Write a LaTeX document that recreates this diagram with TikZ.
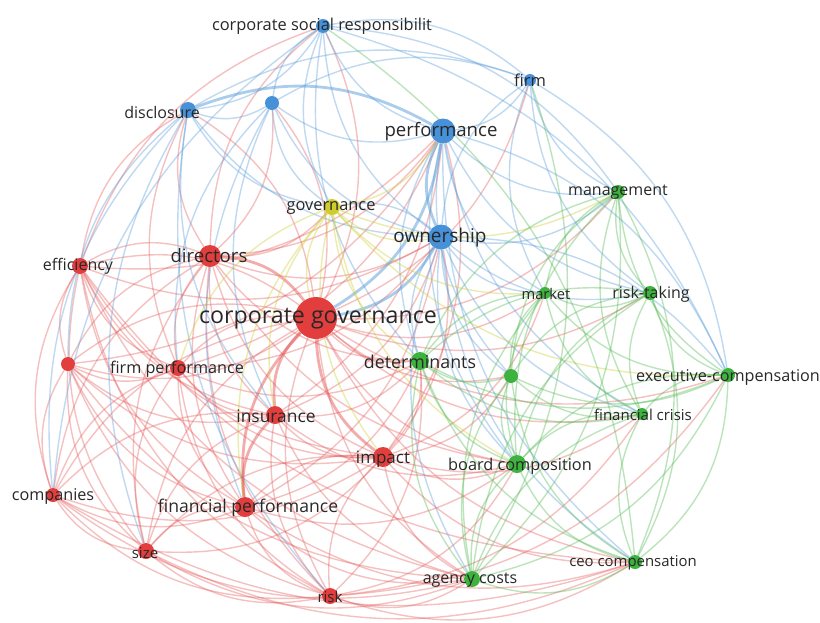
\documentclass[tikz,border=0pt]{standalone}
\usepackage{fontspec}
\setmainfont{Open Sans}
\pgfdeclarelayer{bg}
\pgfsetlayers{bg,main}
\definecolor{cred}{RGB}{226,62,62}
\definecolor{cgreen}{RGB}{62,178,62}
\definecolor{cblue}{RGB}{70,145,215}
\definecolor{cyel}{RGB}{205,205,45}
\definecolor{ltxt}{RGB}{40,40,40}
\tikzset{
  vn/.style={circle,inner sep=0pt,draw=none,minimum size=#1},
  rn/.style={vn=#1,fill=cred},
  gn/.style={vn=#1,fill=cgreen},
  bn/.style={vn=#1,fill=cblue},
  yn/.style={vn=#1,fill=cyel},
  lab/.style={text=ltxt,inner sep=0pt,yshift=-2pt,font=\fontsize{#1}{#1}\selectfont},
  lnk/.style={line width=1.4pt,draw opacity=0.38,bend right=25},
  rl/.style={lnk,draw=cred!85!white},
  gl/.style={lnk,draw=cgreen!90!white},
  bl/.style={lnk,draw=cblue!90!white},
  yl/.style={lnk,draw=cyel},
  hv/.style={line width=2.8pt,draw opacity=0.5}
}
\begin{document}
\begin{tikzpicture}[x=1pt,y=-1pt]
\useasboundingbox (0,0) rectangle (820,622);
% blue
\node[bn=14] (csr) at (323,26) {};
\node[bn=12] (firm) at (530,80) {};
\node[bn=16] (dis) at (188,110) {};
\node[bn=14] (bu) at (272,103) {};
\node[bn=25] (perf) at (443,131) {};
\node[bn=25] (own) at (441,237) {};
% yellow
\node[yn=16] (gov) at (332,207) {};
% green
\node[gn=14] (mgmt) at (618,192) {};
\node[gn=12] (mkt) at (545,293) {};
\node[gn=14] (rt) at (650,293) {};
\node[gn=18] (det) at (420,361) {};
\node[gn=14] (gu) at (511,376) {};
\node[gn=14] (exec) at (728,375) {};
\node[gn=12] (fc) at (642,414) {};
\node[gn=18] (bc) at (517,464) {};
\node[gn=16] (ac) at (472,579) {};
\node[gn=14] (ceo) at (635,562) {};
% red
\node[rn=42] (cg) at (316,318) {};
\node[rn=22] (dir) at (210,256) {};
\node[rn=16] (eff) at (80,266) {};
\node[rn=14] (ru) at (68,364) {};
\node[rn=16] (fp) at (178,368) {};
\node[rn=18] (ins) at (275,415) {};
\node[rn=20] (imp) at (383,457) {};
\node[rn=14] (comp) at (53,495) {};
\node[rn=20] (finp) at (245,507) {};
\node[rn=16] (size) at (146,551) {};
\node[rn=16] (risk) at (330,596) {};

\begin{pgfonlayer}{bg}
\fill[white] (0,0) rectangle (820,622);
% red links
\foreach \s/\t in {cg/eff,cg/ru,cg/fp,cg/comp,cg/size,cg/risk,cg/dis,cg/csr,cg/bu,cg/firm,cg/det,cg/bc,cg/ac,cg/mkt,cg/rt,cg/exec,cg/fc,cg/ceo,cg/mgmt,cg/gu,
 dir/eff,dir/ru,dir/fp,dir/ins,dir/imp,dir/comp,dir/finp,dir/size,dir/risk,dir/perf,dir/own,dis/dir,dir/bu,dir/gov,dir/det,dir/bc,csr/dir,
 eff/ru,eff/fp,eff/comp,eff/size,eff/finp,eff/risk,eff/ins,eff/imp,dis/eff,eff/perf,csr/eff,eff/ac,eff/own,eff/ceo,
 ru/fp,ru/comp,ru/size,ru/finp,ru/ins,ru/risk,ru/imp,ru/cg,ru/ac,ru/perf,
 fp/comp,fp/size,fp/finp,fp/ins,fp/risk,fp/imp,fp/own,fp/perf,dis/fp,fp/det,
 ins/imp,ins/size,ins/risk,ins/comp,ins/det,ins/bc,ins/ac,ins/own,ins/perf,
 imp/finp,imp/risk,imp/size,imp/bc,imp/det,imp/ac,imp/ceo,imp/fc,imp/gu,imp/own,imp/perf,imp/mkt,
 comp/size,comp/finp,comp/risk,comp/ac,comp/ceo,comp/imp,
 finp/size,finp/risk,finp/bc,finp/ac,finp/det,finp/ceo,finp/own,
 size/risk,size/ac,size/ceo,size/imp,
 risk/ac,risk/ceo,risk/bc,risk/det,risk/exec,risk/fc}
 \draw[rl] (\s) to (\t);
\foreach \s/\t in {cg/dir,cg/ins,cg/imp,cg/finp,ins/finp}
 \draw[rl,hv] (\s) to (\t);
% blue links
\foreach \s/\t in {dis/csr,dis/bu,firm/dis,dis/own,dis/gov,dis/comp,dis/ins,dis/size,dis/ru,dis/risk,
 csr/bu,csr/perf,firm/csr,csr/own,mgmt/csr,exec/csr,csr/det,csr/gov,csr/comp,
 bu/perf,firm/bu,bu/own,bu/gov,bu/fp,bu/finp,bu/ins,
 perf/firm,perf/mgmt,perf/mkt,perf/rt,perf/det,perf/bc,exec/perf,perf/fc,perf/gu,perf/ceo,
 firm/own,firm/mgmt,firm/rt,exec/firm,firm/mkt,
 own/det,own/bc,own/mkt,own/rt,own/mgmt,own/gu,own/ac,own/fc,exec/own,own/ceo,own/gov}
 \draw[bl] (\s) to (\t);
\foreach \s/\t in {perf/dis,perf/own,cg/perf,cg/own}
 \draw[bl,hv] (\s) to (\t);
% yellow links
\foreach \s/\t in {gov/perf,gov/det,gov/imp,gov/ins,gov/bc,gov/mkt,gov/mgmt,gov/fp,gov/finp,gov/exec,gov/cg,gov/own}
 \draw[yl] (\s) to (\t);
% green links
\foreach \s/\t in {mgmt/rt,mgmt/mkt,mgmt/exec,mgmt/fc,mgmt/det,mgmt/bc,mgmt/gu,ceo/mgmt,
 mkt/rt,mkt/det,mkt/gu,mkt/bc,mkt/fc,mkt/exec,mkt/ac,
 rt/exec,rt/fc,rt/gu,rt/det,rt/bc,ceo/rt,rt/ac,
 det/gu,det/bc,det/ac,det/fc,det/exec,det/ceo,
 gu/bc,gu/fc,gu/exec,gu/ac,gu/ceo,
 exec/fc,ceo/exec,exec/bc,ac/exec,
 fc/bc,fc/ceo,fc/ac,
 bc/ac,bc/ceo,ac/ceo,ceo/csr,ac/mgmt,ac/firm}
 \draw[gl] (\s) to (\t);
\end{pgfonlayer}

% labels
\node[lab=16.4] (lcsr) at (322,24) {corporate social responsibilit};
\node[lab=16.5] (lfirm) at (530,78) {firm};
\node[lab=16] (ldis) at (162,110) {disclosure};
\node[lab=18.6] (lperf) at (441,130) {performance};
\node[lab=19] (lown) at (440,236) {ownership};
\node[lab=16.4] (lgov) at (331,206) {governance};
\node[lab=16] (lmgmt) at (618,190) {management};
\node[lab=14.7] (lmkt) at (546,292) {market};
\node[lab=16] (lrt) at (651,292) {risk-taking};
\node[lab=17.8] (ldet) at (420,360) {determinants};
\node[lab=16.2] (lexec) at (728,375) {executive-compensation};
\node[lab=15] (lfc) at (643,413) {financial crisis};
\node[lab=16.3] (lbc) at (520,464) {board composition};
\node[lab=16] (lac) at (470,578) {agency costs};
\node[lab=14.9] (lceo) at (633,561) {ceo compensation};
\node[lab=23.2] (lcg) at (318,317) {corporate governance};
\node[lab=18.6] (ldir) at (209,254) {directors};
\node[lab=16] (leff) at (78,264) {efficiency};
\node[lab=16.2] (lfp) at (177,367) {firm performance};
\node[lab=17.4] (lins) at (276,414) {insurance};
\node[lab=17] (limp) at (383,457) {impact};
\node[lab=16.2] (lcomp) at (53,494) {companies};
\node[lab=17.6] (lfinp) at (248,506) {financial performance};
\node[lab=15] (lsize) at (145,551) {size};
\node[lab=15] (lrisk) at (330,595) {risk};
\end{tikzpicture}
\end{document}
